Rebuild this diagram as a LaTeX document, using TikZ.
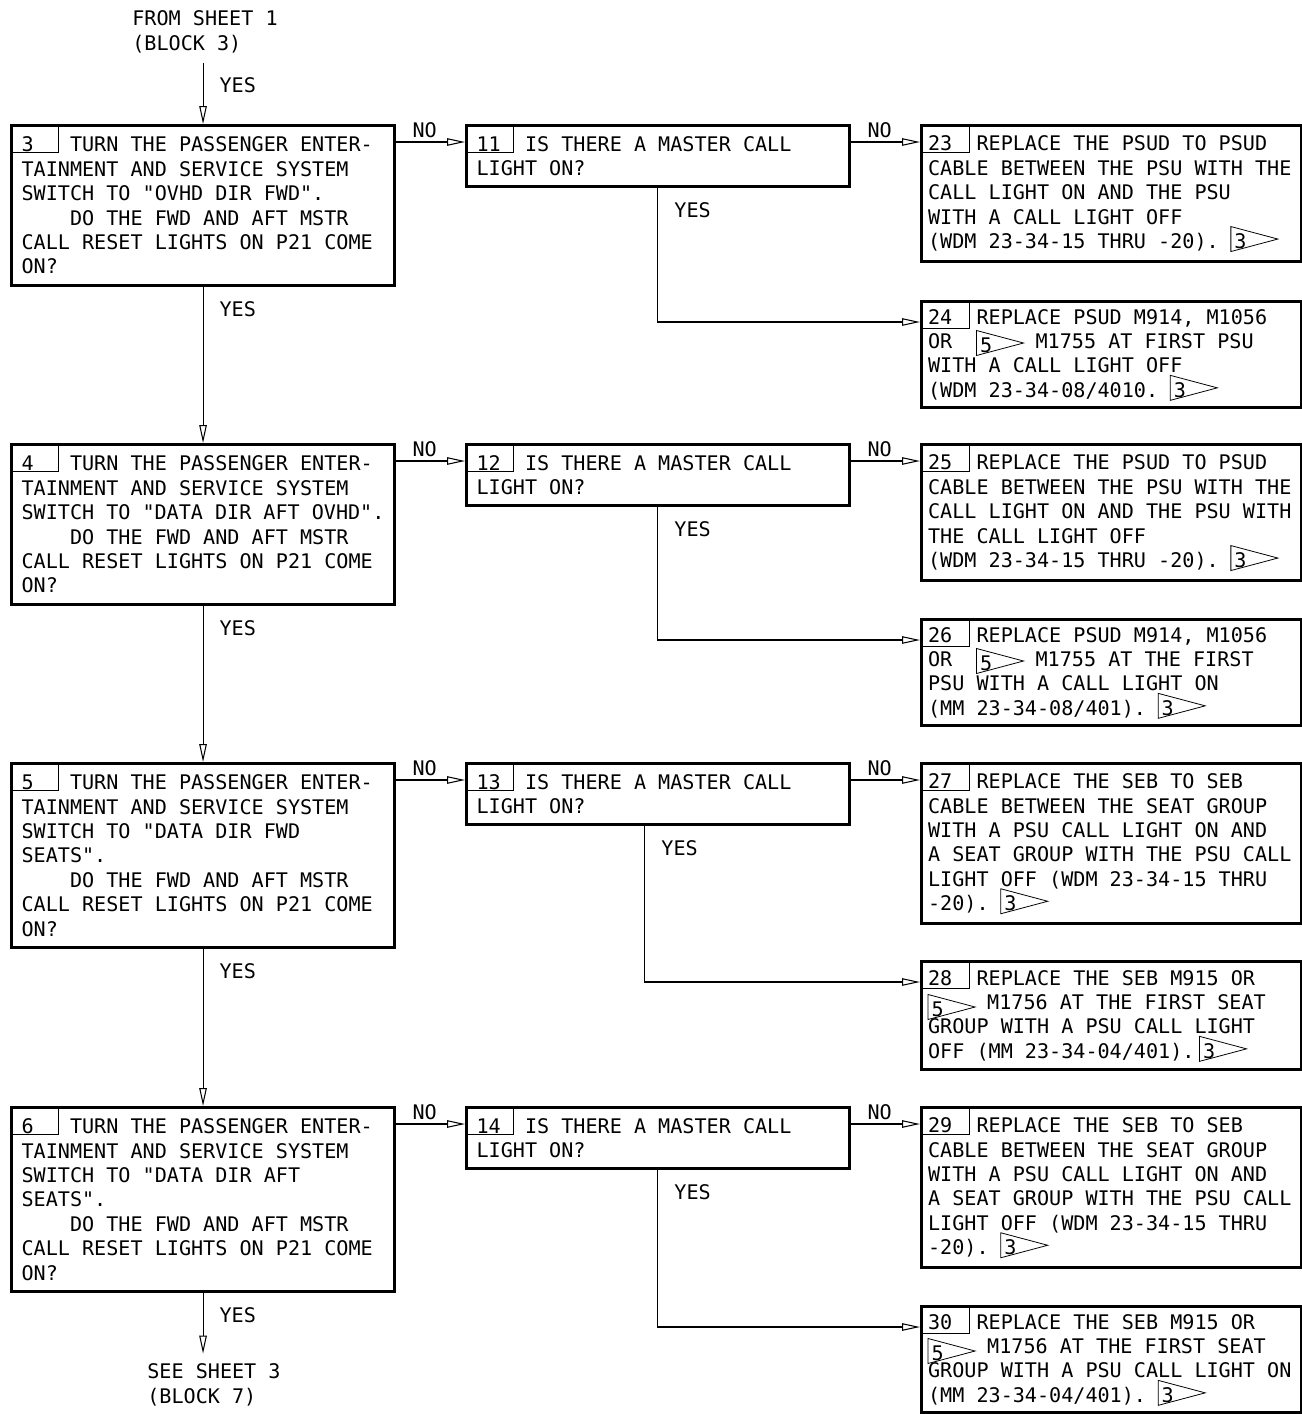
\documentclass[tikz,border=0pt]{standalone}
\usepackage{fontspec}
\usepackage{tikz}
\usetikzlibrary{arrows.meta}
\newfontfamily\chartfont[Ligatures=TeXOff]{DejaVu Sans Mono}

% note flag: triangle with the note number in it
\newcommand{\flagnote}[2][0pt]{\smash{\raisebox{#1}{\makebox[0.94cm][l]{%
  \tikz[overlay,baseline=0pt,x=1cm,y=1cm,line width=0.45pt]
    \draw (0,-0.06) -- (0,0.44) -- (0.94,0.19) -- cycle;%
  \hspace{0.07cm}#2}}}}
\newcommand{\indt}{\hphantom{0000}}

\begin{document}
\begin{tikzpicture}[x=0.02cm,y=-0.02cm,
  >={Triangle[open,length=0.36cm,width=0.15cm]},
  font=\chartfont\fontsize{11.45}{13.9}\selectfont,
  qbox/.style={draw,line width=1.8pt,anchor=north west,align=left,
    inner xsep=0.2cm,inner ysep=0pt,text width=7.26cm,minimum height=#1,
    execute at begin node={\spaceskip=0pt\xspaceskip=0pt}},
  rbox/.style={qbox=#1,inner xsep=0.13cm,text width=7.34cm},
  cell/.style={line width=0.5pt},
  flow/.style={line width=0.6pt},
  yes/.style={anchor=west,inner sep=0pt,xshift=0.32cm,yshift=-0.44cm},
  nolbl/.style={anchor=west,inner sep=0pt,xshift=0.32cm,yshift=0.24cm},
  note/.style={align=left,inner xsep=0pt,inner ysep=0.2cm}]
  % page is 1302 x 1414 px, one unit = one px, y runs down
  \useasboundingbox[fill=white] (0,0) rectangle (1302,1414);
  \def\colL{10}
  \def\colM{465}
  \def\colR{920}

  % entry / exit
  \node[note,anchor=west] (from1) at (132,32) {FROM SHEET 1\\(BLOCK 3)};
  \node[note,anchor=west] (see3) at (147,1385) {SEE SHEET 3\\(BLOCK 7)};

  % switch steps
  \node[qbox=3.2cm] (b3) at (\colL,124) {3\ \ \ TURN THE PASSENGER ENTER-\\TAINMENT AND SERVICE SYSTEM\\SWITCH TO "OVHD DIR FWD".\\\indt DO THE FWD AND AFT MSTR\\CALL RESET LIGHTS ON P21 COME\\ON?};
  \node[qbox=3.2cm] (b4) at (\colL,443) {4\ \ \ TURN THE PASSENGER ENTER-\\TAINMENT AND SERVICE SYSTEM\\SWITCH TO "DATA DIR AFT OVHD".\\\indt DO THE FWD AND AFT MSTR\\CALL RESET LIGHTS ON P21 COME\\ON?};
  \node[qbox=3.68cm] (b5) at (\colL,762) {5\ \ \ TURN THE PASSENGER ENTER-\\TAINMENT AND SERVICE SYSTEM\\SWITCH TO "DATA DIR FWD\\SEATS".\\\indt DO THE FWD AND AFT MSTR\\CALL RESET LIGHTS ON P21 COME\\ON?};
  \node[qbox=3.68cm] (b6) at (\colL,1106) {6\ \ \ TURN THE PASSENGER ENTER-\\TAINMENT AND SERVICE SYSTEM\\SWITCH TO "DATA DIR AFT\\SEATS".\\\indt DO THE FWD AND AFT MSTR\\CALL RESET LIGHTS ON P21 COME\\ON?};

  % master call light questions
  \node[qbox=1.22cm] (b11) at (\colM,124) {11\ \ IS THERE A MASTER CALL\\LIGHT ON?};
  \node[qbox=1.22cm] (b12) at (\colM,443) {12\ \ IS THERE A MASTER CALL\\LIGHT ON?};
  \node[qbox=1.22cm] (b13) at (\colM,762) {13\ \ IS THERE A MASTER CALL\\LIGHT ON?};
  \node[qbox=1.22cm] (b14) at (\colM,1106) {14\ \ IS THERE A MASTER CALL\\LIGHT ON?};

  % repairs
  \node[rbox=2.72cm] (b23) at (\colR,124) {23\ \ REPLACE THE PSUD TO PSUD\\CABLE BETWEEN THE PSU WITH THE\\CALL LIGHT ON AND THE PSU\\WITH A CALL LIGHT OFF\\(WDM 23-34-15 THRU -20).\ \flagnote{3}};
  \node[rbox=2.12cm] (b24) at (\colR,300) {24\ \ REPLACE PSUD M914, M1056\\OR\ \ \flagnote[-0.08cm]{5}\ M1755 AT FIRST PSU\\WITH A CALL LIGHT OFF\\(WDM 23-34-08/4010.\ \flagnote{3}};
  \node[rbox=2.72cm] (b25) at (\colR,443) {25\ \ REPLACE THE PSUD TO PSUD\\CABLE BETWEEN THE PSU WITH THE\\CALL LIGHT ON AND THE PSU WITH\\THE CALL LIGHT OFF\\(WDM 23-34-15 THRU -20).\ \flagnote{3}};
  \node[rbox=2.12cm] (b26) at (\colR,618) {26\ \ REPLACE PSUD M914, M1056\\OR\ \ \flagnote[-0.08cm]{5}\ M1755 AT THE FIRST\\PSU WITH A CALL LIGHT ON\\(MM 23-34-08/401).\ \flagnote{3}};
  \node[rbox=3.2cm] (b27) at (\colR,762) {27\ \ REPLACE THE SEB TO SEB\\CABLE BETWEEN THE SEAT GROUP\\WITH A PSU CALL LIGHT ON AND\\A SEAT GROUP WITH THE PSU CALL\\LIGHT OFF (WDM 23-34-15 THRU\\-20).\ \flagnote{3}};
  \node[rbox=2.16cm] (b28) at (\colR,960) {28\ \ REPLACE THE SEB M915 OR\\\flagnote[-0.14cm]{5}\ M1756 AT THE FIRST SEAT\\GROUP WITH A PSU CALL LIGHT\\OFF (MM 23-34-04/401).\hspace{0.1cm}\flagnote{3}};
  \node[rbox=3.2cm] (b29) at (\colR,1106) {29\ \ REPLACE THE SEB TO SEB\\CABLE BETWEEN THE SEAT GROUP\\WITH A PSU CALL LIGHT ON AND\\A SEAT GROUP WITH THE PSU CALL\\LIGHT OFF (WDM 23-34-15 THRU\\-20).\ \flagnote{3}};
  \node[rbox=2.12cm] (b30) at (\colR,1305) {30\ \ REPLACE THE SEB M915 OR\\\flagnote[-0.14cm]{5}\ M1756 AT THE FIRST SEAT\\GROUP WITH A PSU CALL LIGHT ON\\(MM 23-34-04/401).\ \flagnote{3}};

  % step number cells
  \draw[cell] (b3.north west) rectangle ++(48,28);
  \draw[cell] (b4.north west) rectangle ++(48,28);
  \draw[cell] (b5.north west) rectangle ++(48,28);
  \draw[cell] (b6.north west) rectangle ++(48,28);
  \draw[cell] (b11.north west) rectangle ++(48,28);
  \draw[cell] (b12.north west) rectangle ++(48,28);
  \draw[cell] (b13.north west) rectangle ++(48,28);
  \draw[cell] (b14.north west) rectangle ++(48,28);
  \draw[cell] (b23.north west) rectangle ++(49,28);
  \draw[cell] (b24.north west) rectangle ++(49,28);
  \draw[cell] (b25.north west) rectangle ++(49,28);
  \draw[cell] (b26.north west) rectangle ++(49,28);
  \draw[cell] (b27.north west) rectangle ++(49,28);
  \draw[cell] (b28.north west) rectangle ++(49,28);
  \draw[cell] (b29.north west) rectangle ++(49,28);
  \draw[cell] (b30.north west) rectangle ++(49,28);

  % YES down the left column
  \draw[flow,->] (from1.south -| b3.north) node[yes]{YES} -- (b3.north);
  \draw[flow,->] (b3.south) node[yes]{YES} -- (b4.north);
  \draw[flow,->] (b4.south) node[yes]{YES} -- (b5.north);
  \draw[flow,->] (b5.south) node[yes]{YES} -- (b6.north);
  \draw[flow,->] (b6.south) node[yes]{YES} -- (see3.north -| b6.south);

  % NO to the right
  \draw[flow,->] ([yshift=-0.36cm]b3.north east) node[nolbl]{NO} -- ([yshift=-0.36cm]b11.north west);
  \draw[flow,->] ([yshift=-0.36cm]b4.north east) node[nolbl]{NO} -- ([yshift=-0.36cm]b12.north west);
  \draw[flow,->] ([yshift=-0.36cm]b5.north east) node[nolbl]{NO} -- ([yshift=-0.36cm]b13.north west);
  \draw[flow,->] ([yshift=-0.36cm]b6.north east) node[nolbl]{NO} -- ([yshift=-0.36cm]b14.north west);
  \draw[flow,->] ([yshift=-0.36cm]b11.north east) node[nolbl]{NO} -- ([yshift=-0.36cm]b23.north west);
  \draw[flow,->] ([yshift=-0.36cm]b12.north east) node[nolbl]{NO} -- ([yshift=-0.36cm]b25.north west);
  \draw[flow,->] ([yshift=-0.36cm]b13.north east) node[nolbl]{NO} -- ([yshift=-0.36cm]b27.north west);
  \draw[flow,->] ([yshift=-0.36cm]b14.north east) node[nolbl]{NO} -- ([yshift=-0.36cm]b29.north west);

  % YES from the questions
  \draw[flow,->] ([xshift=3.86cm]b11.south west) node[yes]{YES} |- ([yshift=-0.44cm]b24.north west);
  \draw[flow,->] ([xshift=3.86cm]b12.south west) node[yes]{YES} |- ([yshift=-0.44cm]b26.north west);
  \draw[flow,->] ([xshift=3.6cm]b13.south west) node[yes]{YES} |- ([yshift=-0.44cm]b28.north west);
  \draw[flow,->] ([xshift=3.86cm]b14.south west) node[yes]{YES} |- ([yshift=-0.44cm]b30.north west);
\end{tikzpicture}
\end{document}
